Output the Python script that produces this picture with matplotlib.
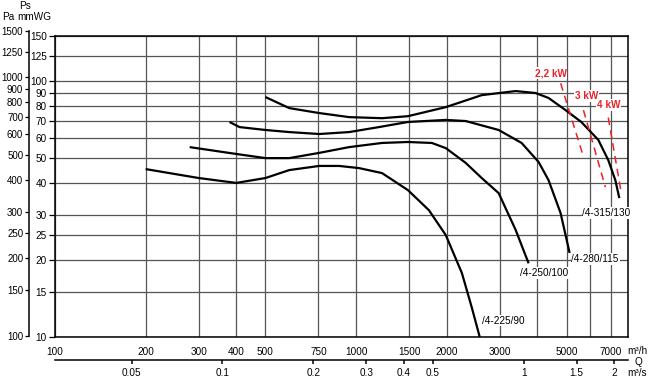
import matplotlib
matplotlib.use("Agg")
import matplotlib.pyplot as plt
from matplotlib.ticker import FixedLocator, NullLocator, FixedFormatter

plt.rcParams['font.family'] = ['Liberation Sans Narrow', 'Liberation Sans', 'DejaVu Sans']
plt.rcParams['font.size'] = 7.2

# flow in m3/h, static pressure in mmWG
q_315 = [500, 600, 754, 948, 1219, 1486, 1986, 2613, 3388, 3946, 4357, 4955, 5598, 6375, 6880, 7262, 7486]
p_315 = [86.6, 78.4, 75.0, 72.3, 71.6, 72.9, 79.1, 88.1, 91.4, 89.8, 85.9, 77.1, 69.2, 58.9, 49.1, 41.0, 34.9]

q_280 = [380, 410, 500, 600, 754, 948, 1191, 1486, 1986, 2312, 2975, 3546, 4037, 4357, 4777, 5119]
p_280 = [69.2, 66.1, 64.4, 63.2, 62.1, 63.2, 66.1, 69.2, 70.5, 69.8, 64.4, 57.3, 48.3, 41.0, 30.5, 21.3]

q_250 = [280, 400, 500, 600, 754, 948, 1219, 1486, 1785, 1986, 2312, 2613, 2975, 3388, 3741]
p_250 = [55.2, 51.9, 50.0, 50.0, 52.4, 55.2, 57.3, 57.8, 57.3, 54.7, 47.9, 41.8, 36.5, 26.2, 19.4]

q_225 = [200, 300, 400, 500, 600, 754, 879, 1023, 1219, 1486, 1745, 1986, 2245, 2420, 2574]
p_225 = [45.3, 41.8, 40.0, 41.8, 44.9, 46.6, 46.6, 45.7, 43.7, 37.5, 31.3, 25.0, 17.8, 13.1, 10.0]

# motor power limits
q_kw22 = [4780, 5650]
p_kw22 = [98, 52]
q_kw3 = [5690, 6730]
p_kw3 = [77, 38.5]
q_kw4 = [6880, 7600]
p_kw4 = [72, 36.5]

q_ticks = [100, 200, 300, 400, 500, 750, 1000, 1500, 2000, 3000, 5000, 7000]
q_minor = [4000, 6000]
mmwg_ticks = [10, 15, 20, 25, 30, 40, 50, 60, 70, 80, 90, 100, 125, 150]
pa_ticks = [100, 150, 200, 250, 300, 400, 500, 600, 700, 800, 900, 1000, 1250, 1500]
qs_ticks = [0.05, 0.1, 0.2, 0.3, 0.4, 0.5, 1, 1.5, 2]
qs_labels = ['0.05', '0.1', '0.2', '0.3', '0.4', '0.5', '1', '1.5', '2']

W, H = 650, 380
fig = plt.figure(figsize=(W / 100, H / 100), dpi=100)

# Pa scale on the far left (own axes, slightly taller than the plot)
ax2 = fig.add_axes([55 / W, 44 / H, 573 / W, 305 / H])
ax2.set_yscale('log')
ax2.set_ylim(100, 1500)
ax2.patch.set_visible(False)
for s in ['right', 'top', 'bottom']:
    ax2.spines[s].set_visible(False)
ax2.spines['left'].set_position(('outward', 18.7))
ax2.spines['left'].set_linewidth(1.1)
ax2.set_xticks([])
ax2.yaxis.set_major_locator(FixedLocator(pa_ticks))
ax2.yaxis.set_major_formatter(FixedFormatter([str(t) for t in pa_ticks]))
ax2.yaxis.set_minor_locator(NullLocator())
ax2.tick_params(axis='y', length=3, width=0.9, pad=1.2, direction='out', labelsize=7)

ax = fig.add_axes([55 / W, 43 / H, 573 / W, 301 / H])
ax.set_xscale('log')
ax.set_yscale('log')
ax.set_xlim(100, 8000)
ax.set_ylim(10, 150)

grid_kw = dict(color='#555555', linewidth=0.9)
ax.xaxis.set_major_locator(FixedLocator(q_ticks))
ax.xaxis.set_major_formatter(FixedFormatter([str(t) for t in q_ticks]))
ax.xaxis.set_minor_locator(FixedLocator(q_minor))
ax.yaxis.set_major_locator(FixedLocator(mmwg_ticks))
ax.yaxis.set_major_formatter(FixedFormatter([str(t) for t in mmwg_ticks]))
ax.yaxis.set_minor_locator(NullLocator())
ax.grid(True, which='both', **grid_kw)
ax.set_axisbelow(True)
ax.tick_params(axis='x', which='both', length=0, pad=7)
ax.tick_params(axis='y', which='major', length=4, width=0.9, pad=2, direction='out')
for sp in ax.spines.values():
    sp.set_linewidth(1.1)
    sp.set_color('black')

# m3/s scale below
sec = ax.secondary_xaxis(-23 / 301, functions=(lambda q: q / 3600, lambda s: s * 3600))
sec.xaxis.set_major_locator(FixedLocator(qs_ticks))
sec.xaxis.set_major_formatter(FixedFormatter(qs_labels))
sec.xaxis.set_minor_locator(NullLocator())
sec.tick_params(axis='x', direction='out', length=3, width=1.1, pad=3)
sec.spines['bottom'].set_linewidth(1.1)

# fan curves
curve_kw = dict(color='black', linewidth=1.6, solid_capstyle='butt', solid_joinstyle='round', zorder=3)
ax.plot(q_315, p_315, **curve_kw)
ax.plot(q_280, p_280, **curve_kw)
ax.plot(q_250, p_250, **curve_kw)
ax.plot(q_225, p_225, **curve_kw)

box = dict(facecolor='white', edgecolor='none', pad=0.6)
ax.text(5646, 30.5, '/4-315/130', ha='left', va='center', bbox=box, zorder=4)
ax.text(5190, 20.2, '/4-280/115', ha='left', va='center', bbox=box, zorder=4)
ax.text(3516, 17.8, '/4-250/100', ha='left', va='center', bbox=box, zorder=4)
ax.text(2613, 11.6, '/4-225/90', ha='left', va='center', bbox=box, zorder=4)

red = '#e8242a'
dash_kw = dict(color=red, linewidth=1.1, linestyle=(0, (5, 3.5)), zorder=3)
ax.plot(q_kw22, p_kw22, **dash_kw)
ax.plot(q_kw3, p_kw3, **dash_kw)
ax.plot(q_kw4, p_kw4, **dash_kw)
ax.text(4424, 107.5, '2,2 kW', color=red, fontweight='bold', ha='center', va='center', bbox=box, zorder=4)
ax.text(5820, 87.4, '3 kW', color=red, fontweight='bold', ha='center', va='center', bbox=box, zorder=4)
ax.text(6880, 80.5, '4 kW', color=red, fontweight='bold', ha='center', va='center', bbox=box, zorder=4)

# axis captions
fig.text(25 / W, 1 - 6 / H, 'Ps', ha='center', va='center')
fig.text(8 / W, 1 - 17 / H, 'Pa', ha='center', va='center')
fig.text(34 / W, 1 - 17 / H, 'mmWG', ha='center', va='center')
fig.text(637 / W, 1 - 351 / H, 'm³/h', ha='center', va='center')
fig.text(638 / W, 1 - 362 / H, 'Q', ha='center', va='center')
fig.text(637 / W, 1 - 373 / H, 'm³/s', ha='center', va='center')

fig.savefig('out.png', dpi=100)
